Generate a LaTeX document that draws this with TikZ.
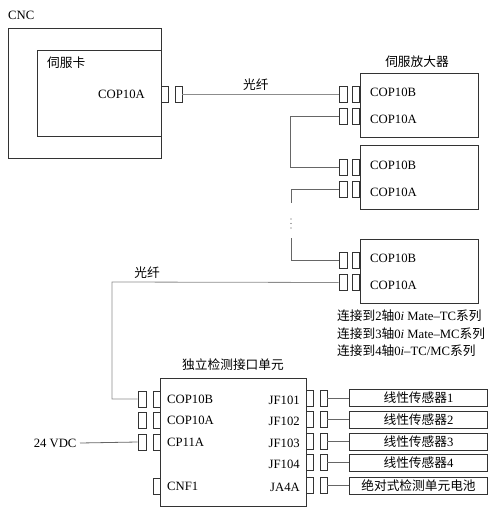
\documentclass[tikz,border=0pt]{standalone}
\usepackage{fontspec}
\setmainfont{Liberation Serif}
\newfontfamily\cjk{Noto Sans CJK SC}
\usetikzlibrary{positioning}

\begin{document}
\begin{tikzpicture}[x=1pt, y=-1pt, font=\fontsize{12.7}{15}\selectfont]
  \tikzset{
    unitbox/.style={rectangle, draw=black!80, line width=1.1pt, inner sep=0pt, anchor=north west},
    port/.style={rectangle, draw=black!80, line width=0.9pt, minimum width=7pt, minimum height=16pt, inner sep=0pt},
    sensor/.style={rectangle, draw=black!80, line width=1pt, minimum width=138pt, minimum height=17pt, inner sep=0pt, anchor=west},
    fibre/.style={draw=black!45, line width=0.8pt},
    wire/.style={draw=black!60, line width=0.8pt},
    plain/.style={inner sep=0pt}
  }
  \useasboundingbox (0,0) rectangle (495,520);

  % CNC with servo card
  \node[unitbox, minimum width=153pt, minimum height=130pt] (cnc) at (8,28) {};
  \node[unitbox, minimum width=124pt, minimum height=86pt] (card) at (37,50) {};
  \node[plain, anchor=base west] at (8,19) {CNC};
  \node[plain, anchor=west] at (47,63) {\cjk 伺服卡};
  \node[plain, anchor=east] at (145,94) {COP10A};
  \node[port] (cnc-i) at (164.5,94.5) {};
  \node[port] (cnc-o) at (178.5,94.5) {};

  % servo amplifiers
  \foreach \i/\t in {1/72.5, 2/145, 3/238.5}{
    \node[unitbox, minimum width=118pt, minimum height=64pt] (amp\i) at (360,\t) {};
    \node[port] (amp\i-Bi) at (356,\t+22) {};
    \node[port, minimum width=8pt] (amp\i-Bo) at (343,\t+22) {};
    \node[port] (amp\i-Ai) at (356,\t+44) {};
    \node[port, minimum width=8pt] (amp\i-Ao) at (343,\t+44) {};
    \node[plain, anchor=west] at (370,\t+20) {COP10B};
    \node[plain, anchor=west] at (370,\t+47) {COP10A};
  }
  \node[plain, anchor=south] at (417,68) {\cjk 伺服放大器};

  \draw[fibre] (cnc-o.east) -- (amp1-Bo.west) node[plain, pos=0.47, above=4pt] {\cjk 光纤};

  % daisy chain
  \coordinate (gaptop) at (291,203);
  \coordinate (gapbot) at (291,238);
  \draw[wire] (amp1-Ao.west) -- ++(-48,0) |- (amp2-Bo.west);
  \draw[wire] (amp2-Ao.west) -| (gaptop);
  \foreach \d in {219,223.5,228}
    \fill[black!70] (291,\d) circle (0.7pt);
  \draw[wire] (gapbot) |- (amp3-Bo.west);

  \node[plain, anchor=north west, align=left, font=\fontsize{12.7}{17.5}\selectfont] (note) at (337,310)
    {{\cjk 连接到}2{\cjk 轴}0\textit{i} Mate–TC{\cjk 系列}\\
     {\cjk 连接到}3{\cjk 轴}0\textit{i} Mate–MC{\cjk 系列}\\
     {\cjk 连接到}4{\cjk 轴}0\textit{i}–TC/MC{\cjk 系列}};

  % interface unit
  \node[unitbox, minimum width=146pt, minimum height=128pt] (iu) at (160,378) {};
  \node[plain] at (233,365) {\cjk 独立检测接口单元};
  \foreach \n/\y/\lab in {B/399/COP10B, A/420/COP10A, C/442/CP11A}{
    \node[port] (iu\n-i) at (156.5,\y) {};
    \node[port, minimum width=8pt] (iu\n-o) at (142,\y) {};
    \node[plain, anchor=west] at (167,\y) {\lab};
  }
  \node[port] (iuF-i) at (156.5,486) {};
  \node[plain, anchor=west] at (167,486) {CNF1};

  \coordinate (drop) at (112,282);
  \draw[fibre] (amp3-Ao.west) -- (drop) |- (iuB-o.west);
  \node[plain] at (147,273) {\cjk 光纤};

  \node[anchor=east] (vdc) at (80,443) {24 VDC};
  \draw[wire] (vdc.east) -- (iuC-o.west);

  % sensors
  \foreach \k/\y/\lab/\sen in {1/398/JF101/{\cjk 线性传感器}1, 2/419.5/JF102/{\cjk 线性传感器}2,
      3/441.5/JF103/{\cjk 线性传感器}3, 4/462.5/JF104/{\cjk 线性传感器}4, 5/485.5/JA4A/{\cjk 绝对式检测单元电池}}{
    \node[plain, anchor=east] at (300,\y+2) {\lab};
    \node[port] (jf\k-i) at (310,\y) {};
    \node[port] (jf\k-o) at (323.5,\y) {};
    \node[sensor] (sen\k) at (349,\y) {\sen};
    \draw[wire] (jf\k-o.east) -- (sen\k.west);
  }
\end{tikzpicture}
\end{document}
